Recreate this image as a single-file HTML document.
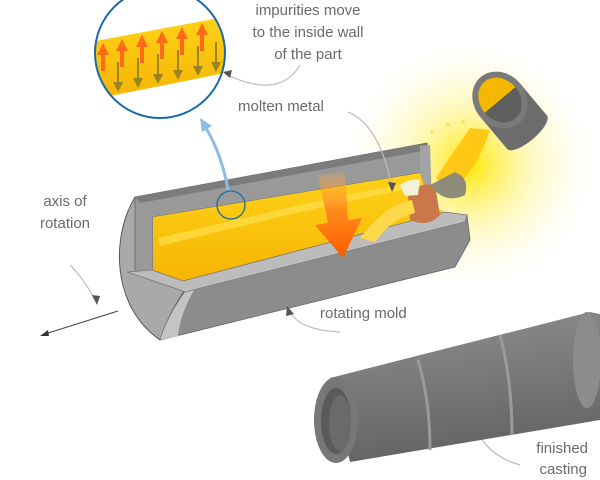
<!DOCTYPE html>
<html><head><meta charset="utf-8"><style>
html,body{margin:0;padding:0;background:#fff;}
svg{display:block;}
text{font-family:"Liberation Sans",sans-serif;font-size:15px;fill:#6a6a6a;}
</style></head><body>
<svg width="600" height="480" viewBox="0 0 600 480" xmlns="http://www.w3.org/2000/svg">
<defs>
<radialGradient id="glow" cx="0.5" cy="0.5" r="0.5">
<stop offset="0" stop-color="#ffe800" stop-opacity="1"/>
<stop offset="0.45" stop-color="#fff27a" stop-opacity="0.55"/>
<stop offset="1" stop-color="#fffbe0" stop-opacity="0"/>
</radialGradient>
<linearGradient id="yel" x1="0" y1="0" x2="0" y2="1">
<stop offset="0" stop-color="#ffd21a"/><stop offset="1" stop-color="#f5b400"/>
</linearGradient>
<linearGradient id="org" x1="0" y1="0" x2="0" y2="1">
<stop offset="0" stop-color="#ffb040" stop-opacity="0.2"/><stop offset="0.45" stop-color="#ff8a1a"/><stop offset="1" stop-color="#ff5a00"/>
</linearGradient>
<linearGradient id="pipe" x1="0" y1="0" x2="0.2" y2="1">
<stop offset="0" stop-color="#8e8e8e"/><stop offset="0.4" stop-color="#7e7e7e"/><stop offset="1" stop-color="#646464"/>
</linearGradient>
<clipPath id="cc"><circle cx="160" cy="53" r="65"/></clipPath>
</defs>
<circle cx="470" cy="165" r="125" fill="url(#glow)"/>
<polygon points="180,288 467,215 470,240 455,267 160,340" fill="#8c8c8c" stroke="#666" stroke-width="0.8"/>
<path d="M135,197 C112,235 110,305 160,340 Q168,315 185,290 L160,272 L153,200 Z" fill="#a9a9a9" stroke="#555" stroke-width="1"/>
<path d="M160,340 Q168,315 185,292 L194,290 Q180,315 178,336 Z" fill="#c4c4c4"/>
<polygon points="135,197 427,143 430,185 420,180 420,173 153,217 153,272 135,272" fill="#999" stroke="#666" stroke-width="0.8"/>
<polygon points="135,197 427,143 428,150 140,203" fill="#7c7c7c"/>
<polygon points="420,146 430,145 432,205 420,200" fill="#a4a4a4"/>
<polygon points="153,217 420,173 430,205 445,212 180,283 153,270" fill="url(#yel)"/>
<polygon points="158,238 300,205 420,180 420,186 300,212 160,246" fill="#ffe04a" opacity="0.7"/>
<polygon points="127,272 152,270 183,281 445,212 467,215 465,222 185,292 180,290" fill="#bcbcbc" stroke="#777" stroke-width="0.8"/>
<path d="M408,195 Q418,182 435,185 L440,215 Q428,228 410,220 Z" fill="#c9784a"/>
<path d="M400,185 Q410,178 420,180 L418,195 L405,196Z" fill="#f2f2d8"/>
<path d="M360,238 Q385,205 412,200 L415,213 Q392,218 375,242 Z" fill="#ffd84a"/>
<path d="M436,178 Q455,150 470,128 L490,130 Q478,168 452,192 Z" fill="#ffc814"/>
<path d="M430,185 Q445,205 465,195 Q470,178 455,172 Z" fill="#8c8c78"/>
<g transform="rotate(-40 500 100)">
<rect x="474" y="100" width="52" height="42" fill="#6c6c6c"/>
<ellipse cx="500" cy="142" rx="26" ry="9" fill="#6c6c6c"/>
<ellipse cx="500" cy="100" rx="26" ry="30" fill="#7a7a7a"/>
<ellipse cx="500" cy="100" rx="20" ry="24" fill="#5e5e5e"/>
<path d="M480,100 A20,24 0 0 1 520,100 Z" fill="#f5b800"/>
</g>
<g fill="#f7e56a">
<circle cx="432" cy="132" r="2"/><circle cx="448" cy="125" r="2"/><circle cx="463" cy="122" r="2"/><circle cx="488" cy="157" r="2"/><circle cx="475" cy="192" r="2"/><circle cx="487" cy="172" r="2"/>
</g>
<path d="M318,175 L345,172 L348,220 L362,218 L343,258 L315,225 L328,223 Z" fill="url(#org)"/>
<circle cx="231" cy="205" r="14" fill="none" stroke="#1a6aa8" stroke-width="1.3"/>
<path d="M228,190 Q222,155 206,128" fill="none" stroke="#8cbde0" stroke-width="3"/>
<polygon points="200,118 212,126 202,132" fill="#8cbde0"/>
<g clip-path="url(#cc)">
<rect x="90" y="-15" width="140" height="140" fill="#fff"/>
<polygon points="90,42 230,16 230,72 90,100" fill="url(#yel)"/>
<g fill="#ff6a1a">
<path d="M97,55 l6,-12 l6,12 h-4 v16 h-4 v-16z"/>
<path d="M116,51 l6,-12 l6,12 h-4 v16 h-4 v-16z"/>
<path d="M136,47 l6,-12 l6,12 h-4 v16 h-4 v-16z"/>
<path d="M156,43 l6,-12 l6,12 h-4 v16 h-4 v-16z"/>
<path d="M176,39 l6,-12 l6,12 h-4 v16 h-4 v-16z"/>
<path d="M196,35 l6,-12 l6,12 h-4 v16 h-4 v-16z"/>
</g>
<g fill="#9a8420">
<path d="M117,62 h2 v20 h4 l-5,10 l-5,-10 h4z"/>
<path d="M137,58 h2 v20 h4 l-5,10 l-5,-10 h4z"/>
<path d="M157,54 h2 v20 h4 l-5,10 l-5,-10 h4z"/>
<path d="M177,50 h2 v20 h4 l-5,10 l-5,-10 h4z"/>
<path d="M197,46 h2 v20 h4 l-5,10 l-5,-10 h4z"/>
<path d="M215,42 h2 v20 h4 l-5,10 l-5,-10 h4z"/>
</g>
</g>
<circle cx="160" cy="53" r="65" fill="none" stroke="#1a6aa8" stroke-width="2"/>
<path d="M225,74 Q280,100 300,65" fill="none" stroke="#bbb" stroke-width="1.2"/>
<polygon points="223,72 232,70 230,78" fill="#555"/>
<path d="M348,112 Q380,125 392,188" fill="none" stroke="#bbb" stroke-width="1.2"/>
<polygon points="392,192 388,182 396,183" fill="#555"/>
<path d="M70,265 Q85,280 95,300" fill="none" stroke="#bbb" stroke-width="1.2"/>
<polygon points="97,305 92,295 100,296" fill="#555"/>
<path d="M340,332 Q300,330 290,312" fill="none" stroke="#bbb" stroke-width="1.2"/>
<polygon points="287,306 294,314 286,316" fill="#555"/>
<path d="M520,465 Q485,455 475,425" fill="none" stroke="#bbb" stroke-width="1.2"/>
<polygon points="474,420 479,430 471,430" fill="#555"/>
<line x1="118" y1="311" x2="45" y2="334" stroke="#444" stroke-width="1"/>
<polygon points="40,336 48,330 49,336" fill="#333"/>
<polygon points="330,378 590,312 600,314 600,420 350,462" fill="url(#pipe)"/>
<path d="M418,360 Q430,400 430,450" stroke="#9a9a9a" stroke-width="3" fill="none"/>
<path d="M500,335 Q512,380 512,435" stroke="#9a9a9a" stroke-width="3" fill="none"/>
<ellipse cx="587" cy="360" rx="14" ry="48" fill="#8c8c8c"/>
<ellipse cx="336" cy="420" rx="22" ry="43" fill="#777"/>
<ellipse cx="336" cy="421" rx="15" ry="33" fill="#5a5a5a"/>
<ellipse cx="340" cy="423" rx="11" ry="28" fill="#6a6a6a"/>
<text x="308" y="15" text-anchor="middle">impurities move</text>
<text x="308" y="37" text-anchor="middle">to the inside wall</text>
<text x="308" y="59" text-anchor="middle">of the part</text>
<text x="238" y="111">molten metal</text>
<text x="65" y="206" text-anchor="middle">axis of</text>
<text x="65" y="228" text-anchor="middle">rotation</text>
<text x="320" y="318">rotating mold</text>
<text x="588" y="453" text-anchor="end">finished</text>
<text x="587" y="474" text-anchor="end">casting</text>
</svg>
</body></html>
